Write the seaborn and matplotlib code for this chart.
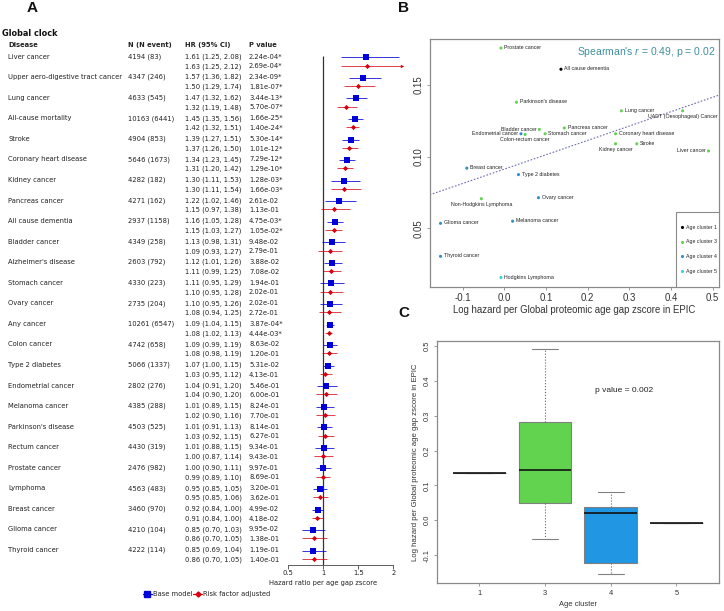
from matplotlib import pyplot as plt
from matplotlib.lines import Line2D
from matplotlib.patches import Rectangle
from matplotlib.transforms import blended_transform_factory
import numpy as np
import pandas as pd
import seaborn as sns

# PANEL A
diseases = ["Liver cancer", "Upper aero-digestive tract cancer", "Lung cancer", "All-cause mortality",
            "Stroke", "Coronary heart disease", "Kidney cancer", "Pancreas cancer", "All cause dementia",
            "Bladder cancer", "Alzheimer's disease", "Stomach cancer", "Ovary cancer", "Any cancer",
            "Colon cancer", "Type 2 diabetes", "Endometrial cancer", "Melanoma cancer", "Parkinson's disease",
            "Rectum cancer", "Prostate cancer", "Lymphoma", "Breast cancer", "Glioma cancer", "Thyroid cancer"]
n_events = ["4194 (83)", "4347 (246)", "4633 (545)", "10163 (6441)", "4904 (853)", "5646 (1673)", "4282 (182)",
            "4271 (162)", "2937 (1158)", "4349 (258)", "2603 (792)", "4330 (223)", "2735 (204)", "10261 (6547)",
            "4742 (658)", "5066 (1337)", "2802 (276)", "4385 (288)", "4503 (525)", "4430 (319)", "2476 (982)",
            "4563 (483)", "3460 (970)", "4210 (104)", "4222 (114)"]

hr_base = [1.61, 1.57, 1.47, 1.45, 1.39, 1.34, 1.30, 1.22, 1.16, 1.13, 1.12, 1.11, 1.10, 1.09, 1.09, 1.07, 1.04,
           1.01, 1.01, 1.01, 1.00, 0.95, 0.92, 0.85, 0.85]
lo_base = [1.25, 1.36, 1.32, 1.35, 1.27, 1.23, 1.11, 1.02, 1.05, 0.98, 1.01, 0.95, 0.95, 1.04, 0.99, 1.00, 0.91,
           0.89, 0.91, 0.88, 0.90, 0.85, 0.84, 0.70, 0.69]
hi_base = [2.08, 1.82, 1.62, 1.56, 1.51, 1.45, 1.53, 1.46, 1.28, 1.31, 1.26, 1.29, 1.26, 1.15, 1.19, 1.15, 1.20,
           1.15, 1.13, 1.15, 1.11, 1.05, 1.00, 1.03, 1.04]
p_base = ["2.24e-04*", "2.34e-09*", "3.44e-13*", "1.66e-25*", "5.30e-14*", "7.29e-12*", "1.28e-03*", "2.61e-02",
          "4.75e-03*", "9.48e-02", "3.88e-02", "1.94e-01", "2.02e-01", "3.87e-04*", "8.63e-02", "5.31e-02",
          "5.46e-01", "8.24e-01", "8.14e-01", "9.34e-01", "9.97e-01", "3.20e-01", "4.99e-02", "9.95e-02", "1.19e-01"]

hr_adj = [1.63, 1.50, 1.32, 1.42, 1.37, 1.31, 1.30, 1.15, 1.15, 1.09, 1.11, 1.10, 1.08, 1.08, 1.08, 1.03, 1.04,
          1.02, 1.03, 1.00, 0.99, 0.95, 0.91, 0.86, 0.86]
lo_adj = [1.25, 1.29, 1.19, 1.32, 1.26, 1.20, 1.11, 0.97, 1.03, 0.93, 0.99, 0.95, 0.94, 1.02, 0.98, 0.95, 0.90,
          0.90, 0.92, 0.87, 0.89, 0.85, 0.84, 0.70, 0.70]
hi_adj = [2.12, 1.74, 1.48, 1.51, 1.50, 1.42, 1.54, 1.38, 1.27, 1.27, 1.25, 1.28, 1.25, 1.13, 1.19, 1.12, 1.20,
          1.16, 1.15, 1.14, 1.10, 1.06, 1.00, 1.05, 1.05]
p_adj = ["2.69e-04*", "1.81e-07*", "5.70e-07*", "1.40e-24*", "1.01e-12*", "1.29e-10*", "1.66e-03*", "1.13e-01",
         "1.05e-02*", "2.79e-01", "7.08e-02", "2.02e-01", "2.72e-01", "4.44e-03*", "1.20e-01", "4.13e-01",
         "6.00e-01", "7.70e-01", "6.27e-01", "9.43e-01", "8.69e-01", "3.62e-01", "4.18e-02", "1.38e-01", "1.40e-01"]

# PANEL B
conditions = ["Prostate cancer", "All cause dementia", "Parkinson's disease", "Lung cancer", "UADT (Oesophageal) Cancer",
              "Bladder cancer", "Pancreas cancer", "Endometrial cancer", "Colon-rectum cancer", "Stomach cancer",
              "Coronary heart disease", "Kidney cancer", "Stroke", "Liver cancer", "Breast cancer", "Type 2 diabetes",
              "Non-Hodgkins Lymphoma", "Ovary cancer", "Melanoma cancer", "Glioma cancer", "Thyroid cancer",
              "Hodgkins Lymphoma"]
log_hazard = [-0.008, 0.136, 0.029, 0.281, 0.428, 0.084, 0.144, 0.040, 0.050, 0.098, 0.267, 0.267, 0.318, 0.490,
              -0.090, 0.034, -0.055, 0.082, 0.020, -0.153, -0.153, -0.008]
y_score = [0.1758, 0.1610, 0.1380, 0.1320, 0.1320, 0.1190, 0.1200, 0.1160, 0.1155, 0.1160, 0.1160, 0.1090, 0.1090,
           0.1040, 0.0920, 0.0875, 0.0707, 0.0714, 0.0550, 0.0535, 0.0305, 0.0157]
clusters = [3, 1, 3, 3, 3, 3, 3, 4, 3, 3, 3, 3, 3, 3, 4, 4, 3, 4, 4, 4, 4, 5]
cluster_order = [1, 3, 4, 5]
cluster_colors = ["black", "#62d34f", "#2f8fc9", "#35d3d3"]
box_colors = ["black", "#62d34f", "#2196e3", "#35d3d3"]

# label placement for panel B, everything else goes right of its point
label_left = ["Bladder cancer", "Endometrial cancer", "Liver cancer"]
label_below = ["UADT (Oesophageal) Cancer", "Colon-rectum cancer", "Kidney cancer", "Non-Hodgkins Lymphoma"]

W, H = 724, 611
BLUE, RED = "#0000d8", "#d8000c"
FRAME = "#8a8a8a"
ARIAL = ["Liberation Sans", "DejaVu Sans"]

sns.set_style("white")
plt.rcParams["font.family"] = "DejaVu Sans"
plt.rcParams["mathtext.fontset"] = "custom"
plt.rcParams["mathtext.it"] = "Liberation Sans:italic"
fig = plt.figure(figsize=(W / 100, H / 100), dpi=100)


def add_axes_px(left, top, right, bottom):
    return fig.add_axes([left / W, 1 - bottom / H, (right - left) / W, (bottom - top) / H])


def fig_text(x, y, s, **kw):
    return fig.text(x / W, 1 - y / H, s, **kw)


# ---- A: forest plot
forest = pd.DataFrame({"row": np.arange(len(diseases)), "hr_base": hr_base, "lo_base": lo_base, "hi_base": hi_base,
                       "hr_adj": hr_adj, "lo_adj": lo_adj, "hi_adj": hi_adj})
forest["row_adj"] = forest["row"] + 0.4

ax_a = add_axes_px(288.3, 50, 404, 565)
ax_a.patch.set_alpha(0)
ax_a.set_xlim(0.5, 0.5 + (404 - 288.3) / 70)
ax_a.set_ylim(24.7, -0.355)

ax_a.vlines(1, -0.06, 24.7, color="#333333", lw=0.9, zorder=1)
ax_a.hlines(forest["row"], forest["lo_base"], forest["hi_base"], color=BLUE, lw=0.7, alpha=0.8, zorder=2)
ax_a.hlines(forest["row_adj"], forest["lo_adj"], forest["hi_adj"], color=RED, lw=0.7, alpha=0.75, zorder=2)
sns.scatterplot(data=forest, x="hr_base", y="row", marker="s", color=BLUE, s=17, linewidth=0, ax=ax_a, zorder=3)
sns.scatterplot(data=forest, x="hr_adj", y="row_adj", marker="D", color=RED, s=7, linewidth=0, ax=ax_a, zorder=3)
# the one CI that runs off the scale gets an arrow head
ax_a.scatter(forest["hi_adj"].max() + 0.005, forest["row_adj"].iloc[0], marker=">", s=6, color=RED, linewidth=0, zorder=3)

for side in ["top", "right", "left"]:
    ax_a.spines[side].set_visible(False)
ax_a.spines["bottom"].set_bounds(0.5, 2)
ax_a.spines["bottom"].set_color("#444444")
ax_a.spines["bottom"].set_linewidth(0.6)
ax_a.set_xticks([0.5, 1, 1.5, 2])
ax_a.set_xticklabels(["0.5", "1", "1.5", "2"])
ax_a.set_yticks([])
ax_a.set_ylabel("")
ax_a.set_xlabel("")
ax_a.tick_params(axis="x", bottom=True, length=3, width=0.6, color="#444444", labelsize=4.9, pad=0.6, labelcolor="#222222")
fig_text(323, 582.5, "Hazard ratio per age gap zscore", fontsize=4.9, ha="center", va="center", color="#222222")

trans = blended_transform_factory(fig.transFigure, ax_a.transData)
TXT = dict(fontsize=4.9, va="center", transform=trans, color="#222222", clip_on=False)
for i in range(len(diseases)):
    ax_a.text(8.3 / W, i - 0.03, diseases[i], **TXT)
    ax_a.text(128 / W, i - 0.03, n_events[i], **TXT)
    ax_a.text(185 / W, i - 0.03, f"{hr_base[i]:.2f} ({lo_base[i]:.2f}, {hi_base[i]:.2f})", **TXT)
    ax_a.text(249 / W, i - 0.03, p_base[i], **TXT)
    ax_a.text(185 / W, i + 0.44, f"{hr_adj[i]:.2f} ({lo_adj[i]:.2f}, {hi_adj[i]:.2f})", **TXT)
    ax_a.text(249 / W, i + 0.44, p_adj[i], **TXT)

fig_text(2, 33.7, "Global clock", fontsize=5.9, fontweight="bold", va="center", color="#111111")
for x, s in [(8.3, "Disease"), (128, "N (N event)"), (185, "HR (95% CI)"), (249, "P value")]:
    fig_text(x, 45, s, fontsize=4.9, fontweight="bold", va="center", color="#222222")

handles = [Line2D([], [], color=BLUE, marker="s", ms=4, lw=0.9),
           Line2D([], [], color=RED, marker="D", ms=2.6, lw=0.9)]
fig.legend(handles, ["Base model", "Risk factor adjusted"], ncol=2, frameon=False, fontsize=4.9, loc="center",
           bbox_to_anchor=(206.5 / W, 1 - 594.3 / H), handlelength=1.3, handletextpad=0.15, columnspacing=0.15,
           labelcolor="#222222")

# ---- B: scatter
scatter_df = pd.DataFrame({"condition": conditions, "log_hazard": log_hazard, "y_score": y_score, "cluster": clusters})
scatter_df["group"] = [f"Age cluster {c}" for c in clusters]

ax_b = add_axes_px(429.7, 39, 719.3, 286.7)
ax_b.set_xlim(-0.179, 0.516)
ax_b.set_ylim(0.0093, 0.1821)
sns.regplot(data=scatter_df, x="log_hazard", y="y_score", scatter=False, ci=None, truncate=False, ax=ax_b,
            line_kws={"color": "#6f6fae", "lw": 0.8, "ls": (0, (1.5, 1.5))})
sns.scatterplot(data=scatter_df, x="log_hazard", y="y_score", hue="group",
                hue_order=[f"Age cluster {c}" for c in cluster_order], palette=cluster_colors, s=5, linewidth=0, ax=ax_b,
                zorder=3)

for name, x, y in zip(conditions, log_hazard, y_score):
    if name in label_below:
        pos = dict(xytext=(0, -3.9), ha="center")
    elif name in label_left:
        pos = dict(xytext=(-2.2, 0.3), ha="right")
    else:
        pos = dict(xytext=(2.4, 0.3), ha="left")
    ax_b.annotate(name, (x, y), textcoords="offset points", va="center", fontsize=3.8, family=ARIAL, color="#222222", **pos)

ax_b.text(0.987, 0.948, "Spearman's $\\mathit{r}$ = 0.49, p = 0.02", transform=ax_b.transAxes, ha="right", va="center",
          fontsize=7.5, color="#3f8f9f", family=ARIAL)

# legend box sits in the corner, taller than matplotlib's own padding allows
box_l, box_t = (676 - 429.7) / (719.3 - 429.7), 1 - (212 - 39) / (286.7 - 39)
ax_b.add_patch(Rectangle((box_l, 0), 1 - box_l, box_t, transform=ax_b.transAxes, facecolor="white", edgecolor=FRAME,
                         lw=0.8, zorder=4))
hh, ll = ax_b.get_legend_handles_labels()
leg = ax_b.legend(hh, ll, loc="center", bbox_to_anchor=((box_l + 1) / 2, box_t / 2), borderaxespad=0, borderpad=0,
                  labelspacing=1.85, handletextpad=0.1, handlelength=1.2, frameon=False,
                  prop={"family": ARIAL, "size": 3.8})
leg.set_zorder(5)

ax_b.set_xticks([-0.1, 0, 0.1, 0.2, 0.3, 0.4, 0.5])
ax_b.set_xticklabels(["-0.1", "0.0", "0.1", "0.2", "0.3", "0.4", "0.5"], family=ARIAL)
ax_b.set_yticks([0.05, 0.10, 0.15])
ax_b.set_yticklabels(["0.05", "0.10", "0.15"], family=ARIAL, rotation=90, va="center")
ax_b.tick_params(axis="both", left=True, bottom=True, length=2.5, width=0.6, color=FRAME, labelsize=6.9, pad=2,
                 labelcolor="#333333")
ax_b.set_xlabel("Log hazard per Global proteomic age gap zscore in EPIC", fontsize=6.9, family=ARIAL, color="#333333",
                labelpad=1.5)
ax_b.set_ylabel("")

# ---- C: boxplot, built from the same points as B
ax_c = add_axes_px(436.7, 341.3, 719.3, 583.3)
sns.boxplot(data=scatter_df, x="cluster", y="log_hazard", order=cluster_order, hue="cluster", hue_order=cluster_order,
            palette=box_colors, saturation=1, legend=False, width=0.8, linecolor="#808080", linewidth=0.8, ax=ax_c,
            whiskerprops={"ls": ":", "color": "#666666"}, medianprops={"color": "#111111", "lw": 1.2})
ax_c.set_xlim(-0.65, 3.655)
ax_c.set_ylim(-0.1807, 0.5134)
fig_text(623.7, 390, "p value = 0.002", fontsize=6, family=ARIAL, ha="center", va="center", color="#222222")
ax_c.set_xticks(range(4))
ax_c.set_xticklabels([str(c) for c in cluster_order], family=ARIAL)
ax_c.set_yticks([-0.1, 0, 0.1, 0.2, 0.3, 0.4, 0.5])
ax_c.set_yticklabels(["-0.1", "0.0", "0.1", "0.2", "0.3", "0.4", "0.5"], family=ARIAL, rotation=90, va="center")
ax_c.tick_params(axis="both", left=True, bottom=True, length=2.5, width=0.6, color=FRAME, labelsize=5.4, pad=2,
                 labelcolor="#333333")
ax_c.set_xlabel("Age cluster", fontsize=5.4, family=ARIAL, color="#333333", labelpad=3)
ax_c.set_ylabel("Log hazard per Global proteomic age gap zscore in EPIC", fontsize=5.6, family=ARIAL, color="#333333",
                labelpad=3)

for ax in (ax_b, ax_c):
    for sp in ax.spines.values():
        sp.set_color(FRAME)
        sp.set_linewidth(0.9)

# panel letters
for x, y, s in [(32, 8, "A"), (403, 8, "B"), (404, 313, "C")]:
    fig_text(x, y, s, fontsize=11, fontweight="bold", family=ARIAL, ha="center", va="center", color="#111111")

fig.savefig("out.png", dpi=100)
